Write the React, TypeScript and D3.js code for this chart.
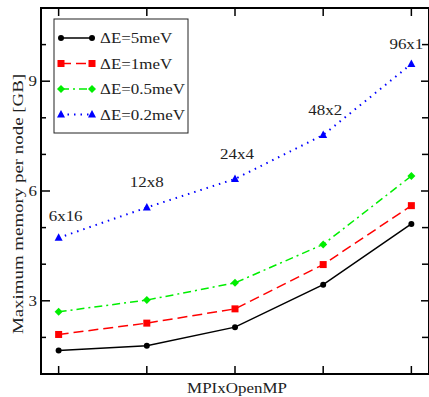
import React, { useEffect, useRef } from 'react';
import * as d3 from 'd3';

const configs = ["6x16", "12x8", "24x4", "48x2", "96x1"];
const seriesNames = ["\u0394E=5meV", "\u0394E=1meV", "\u0394E=0.5meV", "\u0394E=0.2meV"];
const mem5 = [1.64, 1.77, 2.28, 3.44, 5.1];
const mem1 = [2.08, 2.39, 2.78, 3.99, 5.6];
const mem05 = [2.7, 3.02, 3.49, 4.54, 6.41];
const mem02 = [4.72, 5.55, 6.33, 7.53, 9.47];
const yTicks = [3, 6, 9];
const yMinorTicks = [2, 4, 5, 7, 8, 10];

const styles = [
  { color: "#000000", dash: null, marker: "circle" },
  { color: "#ff0000", dash: "10,5", marker: "square" },
  { color: "#00ee00", dash: "8,4,2,4", marker: "diamond" },
  { color: "#0000ff", dash: "1.5,5", marker: "triangle" },
];

const App = () => {
  const ref = useRef<SVGSVGElement>(null);

  useEffect(() => {
    const width = 429;
    const height = 397;
    const left = 41, right = 429, top = 8, bottom = 374;
    const font = "'Liberation Serif', 'Times New Roman', serif";
    const sx = 1.13; // the original font runs wider than Times

    const svg = d3.select(ref.current);
    svg.selectAll("*").remove();

    const x = d3.scaleLinear().domain([-0.2, 4.2]).range([left, right]);
    const y = d3.scaleLinear().domain([1, 11]).range([bottom, top]);

    const data = [mem5, mem1, mem05, mem02];

    const label = (g: any, tx: number, ty: number, txt: string, anchor = "middle", scale = sx) =>
      g.append("text")
        .attr("transform", `translate(${tx},${ty}) scale(${scale},1)`)
        .attr("text-anchor", anchor)
        .attr("font-family", font)
        .attr("font-size", 15)
        .attr("fill", "#222")
        .text(txt);

    // frame
    svg.append("rect")
      .attr("x", left).attr("y", top)
      .attr("width", right - left).attr("height", bottom - top)
      .attr("fill", "none").attr("stroke", "#000").attr("stroke-width", 2);

    const ticks = svg.append("g").attr("stroke", "#000").attr("stroke-width", 1.5);
    configs.forEach((_, i) => {
      ticks.append("line").attr("x1", x(i)).attr("x2", x(i)).attr("y1", bottom).attr("y2", bottom - 8);
      ticks.append("line").attr("x1", x(i)).attr("x2", x(i)).attr("y1", top).attr("y2", top + 8);
    });
    yTicks.forEach(t => {
      ticks.append("line").attr("x1", left).attr("x2", left + 9).attr("y1", y(t)).attr("y2", y(t));
      ticks.append("line").attr("x1", right).attr("x2", right - 8).attr("y1", y(t)).attr("y2", y(t));
    });
    yMinorTicks.forEach(t => {
      ticks.append("line").attr("x1", left).attr("x2", left + 5).attr("y1", y(t)).attr("y2", y(t));
      ticks.append("line").attr("x1", right).attr("x2", right - 7).attr("y1", y(t)).attr("y2", y(t));
    });

    const yl = svg.append("g");
    yTicks.forEach(t => label(yl, left - 4, y(t) + 5, String(t), "end"));

    svg.append("text")
      .attr("transform", `translate(23,204) rotate(-90) scale(1.26,1)`)
      .attr("text-anchor", "middle")
      .attr("font-family", font)
      .attr("font-size", 15)
      .attr("fill", "#222")
      .text("Maximum memory per node [GB]");

    label(svg, 237, 393, "MPIxOpenMP");

    const line = d3.line<number>().x((_, i) => x(i)).y(d => y(d));

    const drawMarker = (g: any, kind: string, cx: number, cy: number, color: string) => {
      if (kind === "circle") {
        g.append("circle").attr("cx", cx).attr("cy", cy).attr("r", 3).attr("fill", color);
      } else if (kind === "square") {
        g.append("rect").attr("x", cx - 3.5).attr("y", cy - 3.5).attr("width", 7).attr("height", 7).attr("fill", color);
      } else if (kind === "diamond") {
        g.append("path").attr("d", `M${cx},${cy - 4}L${cx + 4},${cy}L${cx},${cy + 4}L${cx - 4},${cy}Z`).attr("fill", color);
      } else {
        g.append("path").attr("d", `M${cx},${cy - 4.5}L${cx + 4},${cy + 3}L${cx - 4},${cy + 3}Z`).attr("fill", color);
      }
    };

    data.forEach((vals, si) => {
      const st = styles[si];
      const g = svg.append("g");
      g.append("path")
        .attr("d", line(vals))
        .attr("fill", "none")
        .attr("stroke", st.color)
        .attr("stroke-width", st.marker === "triangle" ? 2 : 1.5)
        .attr("stroke-dasharray", st.dash);
      vals.forEach((v, i) => drawMarker(g, st.marker, x(i), y(v), st.color));
    });

    // configuration labels above the blue series
    const labelOffsets = [[7, -17], [0, -20], [2, -20], [2, -20], [-5, -15]];
    const cl = svg.append("g");
    configs.forEach((c, i) => label(cl, x(i) + labelOffsets[i][0], y(mem02[i]) + labelOffsets[i][1], c));

    // legend
    const lg = svg.append("g");
    lg.append("rect")
      .attr("x", 54).attr("y", 19).attr("width", 134).attr("height", 114)
      .attr("fill", "#fff").attr("stroke", "#222").attr("stroke-width", 1);
    seriesNames.forEach((name, i) => {
      const st = styles[i];
      const ly = 38 + i * 25.5;
      lg.append("line")
        .attr("x1", 61).attr("x2", 92).attr("y1", ly).attr("y2", ly)
        .attr("stroke", st.color)
        .attr("stroke-width", st.marker === "triangle" ? 2 : 1.5)
        .attr("stroke-dasharray", st.dash);
      drawMarker(lg, st.marker, 61, ly, st.color);
      drawMarker(lg, st.marker, 92, ly, st.color);
      label(lg, 100, ly + 5, name, "start");
    });

    svg.attr("width", width).attr("height", height);
  }, []);

  return (
    <div style={{ position: "absolute", left: 0, top: 0, background: "#fff" }}>
      <svg ref={ref} width={429} height={397} style={{ display: "block" }}></svg>
    </div>
  );
};

export default App;
